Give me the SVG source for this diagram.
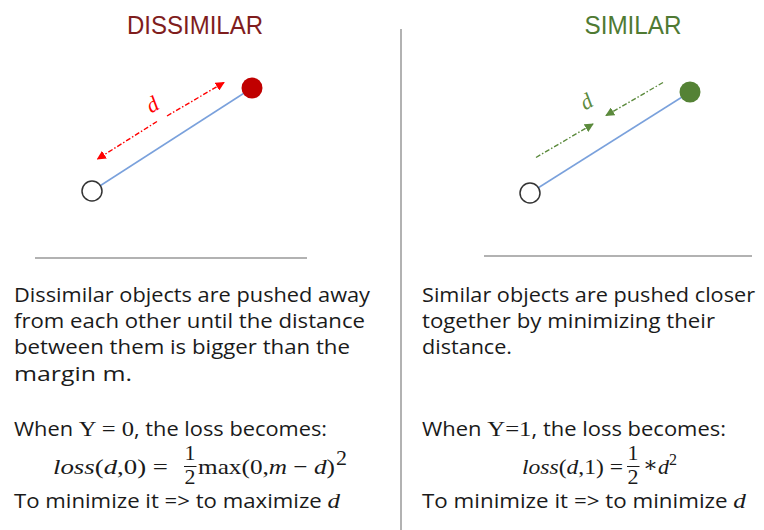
<svg xmlns="http://www.w3.org/2000/svg" width="764" height="530" viewBox="0 0 764 530">
<defs>
<style>
.title{font-family:"Liberation Sans",Arial,sans-serif;font-size:26px}
.body{font-family:"Open Sans","Noto Sans",sans-serif;font-size:19.5px;fill:#1a1a1a}
.math{font-family:"Liberation Serif","DejaVu Serif",serif;font-size:22px;fill:#1a1a1a}
.mi{font-style:italic}
.rule{stroke:#999;stroke-width:1.5}
.link{stroke:#7aa1dc;stroke-width:1.5}
.hollow{fill:#fff;stroke:#333;stroke-width:1.5}
.redarrow{stroke:#ff0000;stroke-width:1.4;stroke-dasharray:5 2 1.5 2;fill:none}
.greenarrow{stroke:#5b8a3c;stroke-width:1.4;stroke-dasharray:5 2 1.5 2;fill:none}
</style>
<marker id="ahRed" viewBox="0 0 10 10" refX="9" refY="5" markerWidth="6.5" markerHeight="6.5" orient="auto">
<path d="M0,0 L10,5 L0,10 z" fill="#ff0000"/>
</marker>
<marker id="ahGreen" viewBox="0 0 10 10" refX="9" refY="5" markerWidth="6.5" markerHeight="6.5" orient="auto">
<path d="M0,0 L10,5 L0,10 z" fill="#5b8a3c"/>
</marker>
</defs>
<rect width="764" height="530" fill="#fff"/>

<g id="dividers">
<line class="rule" x1="401" y1="29" x2="401" y2="530"/>
<line class="rule" x1="35" y1="258" x2="307" y2="258"/>
<line class="rule" x1="484" y1="256" x2="752" y2="256"/>
</g>

<g id="title-dissimilar"><text class="title" x="195" y="34" text-anchor="middle" fill="#7f1d1d" textLength="136" lengthAdjust="spacingAndGlyphs">DISSIMILAR</text></g>
<g id="title-similar"><text class="title" x="633" y="34" text-anchor="middle" fill="#4f7a33" textLength="97" lengthAdjust="spacingAndGlyphs">SIMILAR</text></g>

<g id="connectors">
<line class="link" x1="92" y1="191" x2="252" y2="88"/>
<line class="link" x1="530" y1="193" x2="690" y2="92"/>
<line class="redarrow" x1="157" y1="121.5" x2="97.5" y2="159" marker-end="url(#ahRed)"/>
<line class="redarrow" x1="167" y1="116" x2="224" y2="82.5" marker-end="url(#ahRed)"/>
<line class="greenarrow" x1="536" y1="157.5" x2="593" y2="124" marker-end="url(#ahGreen)"/>
<line class="greenarrow" x1="663" y1="82.5" x2="606" y2="115.5" marker-end="url(#ahGreen)"/>
<text class="math mi" style="fill:#ff0000" text-anchor="middle" transform="translate(156,111) rotate(-31)">d</text>
<text class="math mi" style="fill:#5b8a3c" text-anchor="middle" transform="translate(590,108) rotate(-31)">d</text>
</g>

<g id="node-dissimilar-a"><circle class="hollow" cx="92" cy="191" r="10"/></g>
<g id="node-dissimilar-b"><circle cx="252" cy="88" r="10.5" fill="#c00000"/></g>
<g id="node-similar-a"><circle class="hollow" cx="530" cy="193" r="10"/></g>
<g id="node-similar-b"><circle cx="690" cy="92" r="10.5" fill="#548235"/></g>

<g id="text-left">
<text class="body" x="14" y="302" textLength="356" lengthAdjust="spacingAndGlyphs">Dissimilar objects are pushed away</text>
<text class="body" x="14" y="328" textLength="351" lengthAdjust="spacingAndGlyphs">from each other until the distance</text>
<text class="body" x="14" y="354" textLength="336" lengthAdjust="spacingAndGlyphs">between them is bigger than the</text>
<text class="body" x="14" y="381" textLength="118" lengthAdjust="spacingAndGlyphs">margin m.</text>
<text class="body" x="14" y="436" textLength="313" lengthAdjust="spacingAndGlyphs">When <tspan class="math" font-size="20">Y = 0</tspan>, the loss becomes:</text>
<text class="math" x="53" y="474" textLength="115" lengthAdjust="spacingAndGlyphs"><tspan class="mi">loss</tspan>(<tspan class="mi">d</tspan>,0) =</text>
<text class="math" x="190" y="460" text-anchor="middle">1</text>
<line x1="184" y1="466.5" x2="196.5" y2="466.5" stroke="#1a1a1a" stroke-width="1"/>
<text class="math" x="190" y="484" text-anchor="middle">2</text>
<text class="math" x="198" y="474" textLength="137" lengthAdjust="spacingAndGlyphs">max(0,<tspan class="mi">m</tspan> − <tspan class="mi">d</tspan>)</text>
<text class="math" x="336" y="465" font-size="16">2</text>
<text class="body" x="14" y="508" textLength="326" lengthAdjust="spacingAndGlyphs">To minimize it =&gt; to maximize <tspan class="math mi" font-size="22">d</tspan></text>
</g>

<g id="text-right">
<text class="body" x="422" y="302" textLength="333" lengthAdjust="spacingAndGlyphs">Similar objects are pushed closer</text>
<text class="body" x="422" y="328" textLength="293" lengthAdjust="spacingAndGlyphs">together by minimizing their</text>
<text class="body" x="422" y="354" textLength="90" lengthAdjust="spacingAndGlyphs">distance.</text>
<text class="body" x="422" y="436" textLength="304" lengthAdjust="spacingAndGlyphs">When <tspan class="math" font-size="20">Y=1</tspan>, the loss becomes:</text>
<text class="math" x="522" y="474" textLength="101" lengthAdjust="spacingAndGlyphs"><tspan class="mi">loss</tspan>(<tspan class="mi">d</tspan>,1) =</text>
<text class="math" x="633" y="460" text-anchor="middle">1</text>
<line x1="627" y1="466.5" x2="639.5" y2="466.5" stroke="#1a1a1a" stroke-width="1"/>
<text class="math" x="633" y="484" text-anchor="middle">2</text>
<text class="math" x="643" y="472" font-size="15">∗</text>
<text class="math" x="658" y="474" font-size="24"><tspan class="mi">d</tspan><tspan font-size="16" dy="-9">2</tspan></text>
<text class="body" x="422" y="508" textLength="324" lengthAdjust="spacingAndGlyphs">To minimize it =&gt; to minimize <tspan class="math mi" font-size="22">d</tspan></text>
</g>
</svg>
